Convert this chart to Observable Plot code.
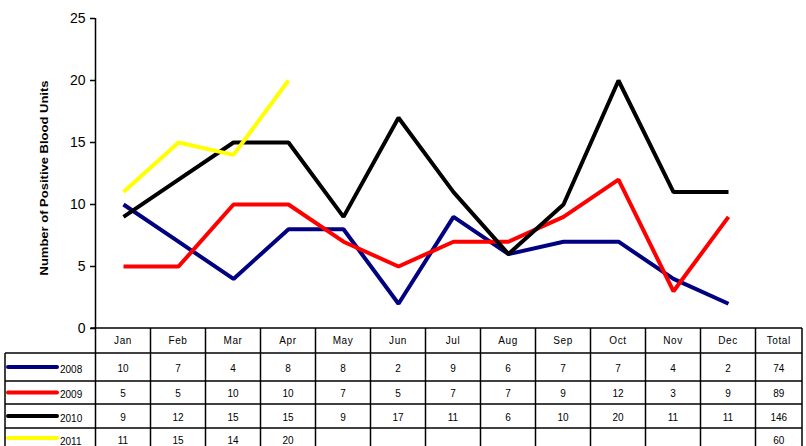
<!DOCTYPE html>
<html><head><meta charset="utf-8">
<script src="https://cdn.jsdelivr.net/npm/d3@7"></script>
<script src="https://cdn.jsdelivr.net/npm/@observablehq/plot@0.6"></script>
<style>
body{margin:0;background:#fff;}
#chart svg{font-family:"Liberation Sans",Arial,sans-serif;}
</style>
</head><body><div id="chart"></div>
<script>
const months = ["Jan","Feb","Mar","Apr","May","Jun","Jul","Aug","Sep","Oct","Nov","Dec"];
const years = ["2008","2009","2010","2011"];
const colors = ["#000080","#ff0000","#000000","#ffff00"];
const v2008 = [10,7,4,8,8,2,9,6,7,7,4,2];
const v2009 = [5,5,10,10,7,5,7,7,9,12,3,9];
const v2010 = [9,12,15,15,9,17,11,6,10,20,11,11];
const v2011 = [11,15,14,20];
const totals = [74,89,146,60];
const yTicks = [0,5,10,15,20,25];
const yLabel = "Number of Positive Blood Units";

const series = [v2008,v2009,v2010,v2011];
const lineMarks = series.map((vals,i) => Plot.line(
  vals.map((v,j)=>({month:months[j], value:v})),
  {x:"month", y:"value", stroke:colors[i], strokeWidth:4, strokeLinejoin:"miter", strokeLinecap:"butt"}
));

const plot = Plot.plot({
  width:806, height:446,
  marginTop:18, marginBottom:118, marginLeft:95, marginRight:50,
  style:{fontFamily:"'Liberation Sans', Arial, sans-serif", background:"#fff"},
  x:{type:"point", domain:months, padding:0.5, axis:null},
  y:{domain:[0,25], ticks:yTicks, label:null},
  marks:[
    Plot.axisY(yTicks, {tickSize:5, tickPadding:5, fontSize:14, label:null, stroke:"#000", strokeWidth:1.5}),
    ...lineMarks
  ]
});

document.getElementById("chart").appendChild(plot);
const svg = d3.select(plot);
const xs = plot.scale("x");
const step = xs.apply("Feb") - xs.apply("Jan");
const left = xs.apply("Jan") - step/2;
const right = xs.apply("Dec") + step/2;
const tableRight = 802;
const legendLeft = 5;
const hdrTop = 328, hdrBot = 353;
const rowBounds = [353,381,404,428,452];

const g = svg.append("g").attr("stroke","#000").attr("stroke-width",1.5);
g.append("line").attr("x1",left).attr("x2",left).attr("y1",18).attr("y2",446);
g.append("line").attr("x1",left-5).attr("x2",tableRight).attr("y1",hdrTop).attr("y2",hdrTop);
rowBounds.slice(0,4).forEach(y=>{
  g.append("line").attr("x1",legendLeft).attr("x2",tableRight).attr("y1",y).attr("y2",y);
});
g.append("line").attr("x1",legendLeft).attr("x2",legendLeft).attr("y1",hdrBot).attr("y2",446);
months.forEach(m=>{
  const x = xs.apply(m)+step/2;
  g.append("line").attr("x1",x).attr("x2",x).attr("y1",hdrTop).attr("y2",446);
});
g.append("line").attr("x1",tableRight).attr("x2",tableRight).attr("y1",hdrTop).attr("y2",446);

const t = svg.append("g").attr("font-size",10).attr("fill","#000").attr("text-anchor","middle")
  .attr("font-family","'Liberation Sans', Arial, sans-serif");
const totalX = (right+tableRight)/2;
months.forEach(m=>{
  t.append("text").attr("x",xs.apply(m)).attr("y",(hdrTop+hdrBot)/2).attr("dy","0.35em")
   .attr("letter-spacing","0.6px").text(m);
});
t.append("text").attr("x",totalX).attr("y",(hdrTop+hdrBot)/2).attr("dy","0.35em").attr("letter-spacing","0.6px").text("Total");
series.forEach((vals,i)=>{
  const yc = (rowBounds[i]+rowBounds[i+1])/2;
  const ty = i===3 ? 440 : yc+1;
  vals.forEach((v,j)=>{
    t.append("text").attr("x",xs.apply(months[j])).attr("y",ty).attr("dy","0.35em").text(v);
  });
  t.append("text").attr("x",totalX).attr("y",ty).attr("dy","0.35em").text(totals[i]);
  const ly = i===3 ? 438 : yc;
  svg.append("line").attr("x1",8).attr("x2",57).attr("y1",ly).attr("y2",ly)
    .attr("stroke",colors[i]).attr("stroke-width",4).attr("stroke-linecap","round");
  svg.append("text").attr("x",60).attr("y",(i===3?441:yc+2)).attr("dy","0.35em").attr("font-size",10)
    .attr("text-anchor","start")
    .attr("font-family","'Liberation Sans', Arial, sans-serif").text(years[i]);
});
svg.append("text").attr("transform","translate(48,178) rotate(-90)").attr("text-anchor","middle")
  .attr("font-size",10.5).attr("font-weight","bold").attr("font-family","'Liberation Sans', Arial, sans-serif")
  .attr("textLength",195).attr("lengthAdjust","spacingAndGlyphs").text(yLabel);
</script></body></html>
